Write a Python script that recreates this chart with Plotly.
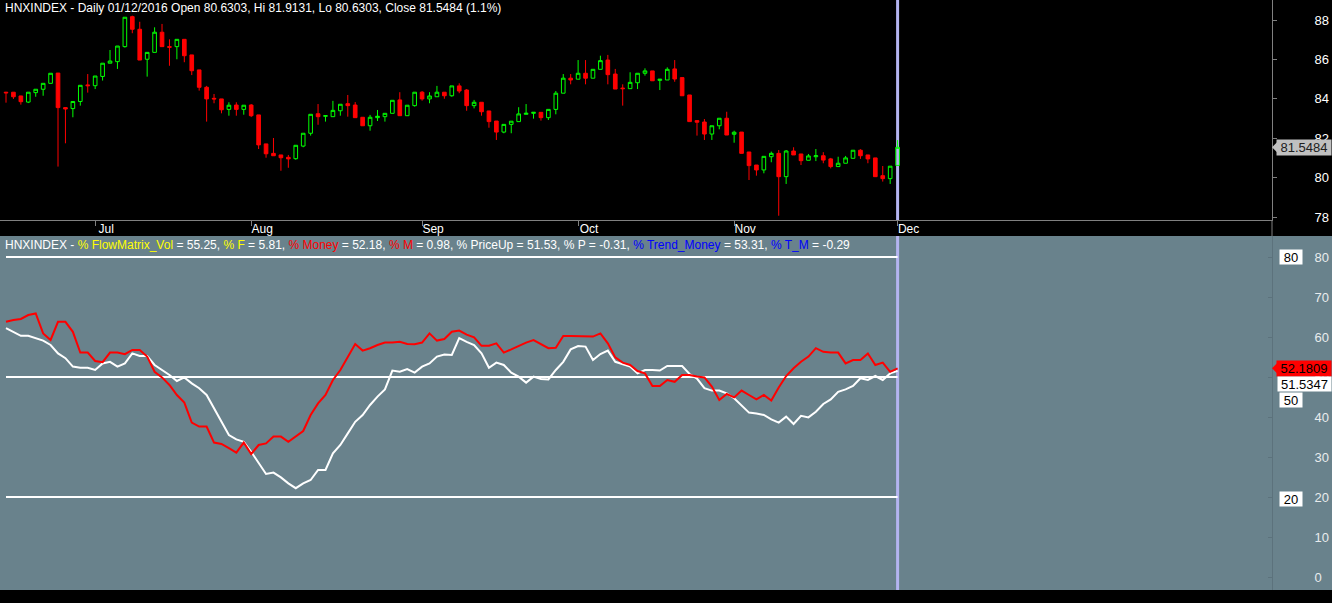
import pandas as pd
import plotly.graph_objects as go

# ---------------- data ----------------
trade_dates = [d for d in pd.bdate_range("2016-06-15", "2016-12-01")
               if d != pd.Timestamp("2016-09-02")]

open_p = [84.34, 84.34, 84.15, 83.84, 84.32, 84.49, 84.79, 85.31, 83.56, 83.51,
          83.87, 84.71, 84.67, 85.14, 85.81, 85.89, 86.65, 88.17, 87.53, 86.01,
          86.36, 87.38, 86.65, 86.65, 87.02, 86.23, 85.47, 84.59, 84.03, 84.00,
          83.47, 83.69, 83.47, 83.69, 83.19, 81.72, 81.24, 81.16, 81.04, 80.97,
          81.61, 82.26, 83.25, 83.12, 83.10, 83.40, 83.76, 83.69, 83.07, 82.64,
          83.05, 83.10, 83.27, 83.95, 83.15, 83.66, 84.34, 84.00, 84.11, 84.34,
          84.16, 84.66, 84.45, 83.66, 83.83, 83.39, 82.88, 82.32, 82.71, 82.85,
          83.22, 83.27, 83.32, 83.05, 83.47, 84.29, 85.05, 85.00, 85.30, 85.05,
          85.50, 85.97, 85.26, 84.55, 84.52, 84.82, 85.30, 85.42, 84.94, 84.96,
          85.52, 85.08, 84.20, 82.90, 82.83, 82.22, 82.64, 83.02, 82.21, 82.32,
          81.31, 80.65, 80.40, 81.07, 81.24, 80.06, 81.36, 81.21, 80.89, 81.07,
          81.12, 80.96, 80.57, 80.74, 80.99, 81.40, 81.16, 81.01, 80.11, 79.96,
          80.6303]
high_p = [84.36, 84.35, 84.16, 84.34, 84.49, 84.79, 85.30, 85.31, 83.57, 83.87,
          84.69, 85.26, 85.16, 85.81, 86.48, 86.68, 88.14, 88.22, 87.91, 86.36,
          87.63, 87.80, 87.02, 87.02, 87.02, 86.23, 85.47, 84.66, 84.25, 84.00,
          83.83, 83.83, 83.68, 83.74, 83.19, 81.72, 82.02, 81.16, 81.16, 81.65,
          82.26, 83.22, 83.74, 83.15, 83.90, 83.73, 84.20, 83.84, 83.07, 83.19,
          83.44, 83.27, 83.93, 84.34, 83.68, 84.34, 84.40, 84.34, 84.66, 84.34,
          84.66, 84.79, 84.50, 83.95, 83.83, 83.39, 82.88, 82.71, 82.87, 83.58,
          83.74, 83.32, 83.32, 83.47, 84.40, 85.26, 85.26, 85.97, 85.97, 85.50,
          86.19, 86.23, 85.52, 84.74, 85.35, 85.30, 85.55, 85.42, 85.00, 85.60,
          85.97, 85.08, 84.20, 82.90, 82.98, 82.64, 83.02, 83.35, 82.39, 82.32,
          81.31, 80.65, 81.09, 81.33, 81.41, 81.41, 81.55, 81.21, 81.21, 81.46,
          81.30, 81.01, 81.07, 81.11, 81.40, 81.45, 81.16, 81.01, 80.60, 80.59,
          81.9131]
low_p = [83.81, 84.00, 83.71, 83.79, 84.11, 84.16, 84.79, 80.57, 81.75, 83.07,
         83.66, 84.32, 84.50, 84.93, 85.81, 85.52, 86.60, 87.33, 85.97, 85.13,
         86.36, 86.65, 85.68, 86.01, 85.86, 85.21, 84.42, 82.85, 83.78, 83.27,
         83.15, 83.15, 83.20, 83.08, 81.46, 81.02, 81.12, 80.36, 80.51, 80.92,
         81.55, 82.14, 82.69, 82.85, 83.10, 83.15, 83.10, 83.05, 82.64, 82.39,
         82.88, 82.85, 83.27, 83.15, 83.15, 83.61, 83.91, 83.78, 84.11, 84.01,
         84.11, 84.29, 83.40, 83.52, 83.15, 82.54, 81.92, 82.26, 82.26, 82.85,
         83.22, 83.00, 82.90, 82.93, 83.22, 84.29, 84.74, 85.00, 84.74, 85.05,
         85.50, 84.74, 84.50, 83.66, 84.52, 84.50, 85.18, 84.92, 84.45, 84.96,
         84.87, 84.16, 82.85, 82.14, 81.92, 81.92, 82.46, 82.17, 81.78, 81.24,
         79.89, 80.11, 80.23, 80.79, 78.08, 79.69, 81.16, 80.65, 80.89, 80.85,
         80.74, 80.48, 80.57, 80.74, 80.99, 80.96, 80.74, 80.06, 79.81, 79.69,
         80.6303]
close_p = [84.31, 84.11, 83.86, 84.34, 84.49, 84.79, 85.30, 83.56, 83.49, 83.87,
           84.69, 84.67, 85.16, 85.81, 85.92, 86.68, 88.14, 87.53, 85.97, 86.36,
           87.38, 86.65, 86.62, 87.02, 86.19, 85.43, 84.59, 84.00, 84.00, 83.45,
           83.68, 83.47, 83.68, 83.15, 81.67, 81.22, 81.12, 81.02, 80.96, 81.65,
           82.26, 83.22, 83.10, 83.15, 83.42, 83.73, 83.66, 83.05, 82.64, 83.07,
           83.12, 83.27, 83.93, 83.15, 83.68, 84.34, 84.00, 84.15, 84.34, 84.16,
           84.66, 84.40, 83.66, 83.83, 83.35, 82.85, 82.32, 82.71, 82.87, 83.24,
           83.27, 83.32, 83.05, 83.47, 84.29, 85.05, 84.96, 85.30, 85.05, 85.50,
           85.94, 85.23, 84.50, 84.52, 84.84, 85.30, 85.42, 84.92, 85.00, 85.50,
           85.01, 84.16, 82.85, 82.82, 82.22, 82.64, 83.02, 82.17, 82.31, 81.24,
           80.62, 80.40, 81.09, 81.24, 80.06, 81.36, 81.16, 80.87, 81.11, 81.12,
           80.90, 80.57, 80.74, 81.01, 81.40, 81.12, 80.96, 80.06, 79.96, 80.59,
           81.5484]
pct_change = 1.1

money = [63.8, 64.25, 64.5, 65.5, 65.9, 60.9, 59.25, 63.8, 63.8, 61.3,
         56.1, 56.1, 54.0, 53.7, 56.1, 56.1, 55.7, 56.75, 56.75, 55.1,
         51.3, 49.9, 48.0, 45.5, 43.6, 38.6, 37.6, 37.6, 33.6, 33.25,
         32.2, 31.1, 33.6, 30.75, 33.0, 33.4, 35.1, 35.1, 33.8, 35.1,
         36.5, 40.5, 43.4, 45.5, 49.25, 51.75, 55.1, 58.25, 56.6, 57.2,
         58.0, 58.6, 58.6, 58.8, 58.25, 58.2, 58.6, 60.9, 59.1, 59.5,
         61.3, 61.6, 60.6, 59.9, 57.8, 57.8, 58.4, 56.1, 56.9, 57.8,
         58.6, 59.25, 58.25, 57.2, 57.3, 60.25, 60.25, 60.25, 60.1, 60.1,
         60.9, 58.4, 54.9, 53.6, 53.0, 51.5, 50.9, 47.75, 47.75, 49.25,
         48.8, 50.5, 50.5, 50.1, 49.9, 47.6, 44.25, 45.75, 44.9, 46.6,
         45.5, 44.4, 45.5, 44.1, 47.4, 50.25, 52.2, 53.8, 55.1, 57.2,
         56.3, 56.1, 56.1, 53.4, 54.25, 54.25, 55.9, 53.0, 53.6, 51.3,
         52.1809]
price_up = [62.2, 61.3, 60.3, 60.3, 59.7, 59.1, 58.0, 55.9, 54.7, 52.6,
            52.3, 52.3, 51.75, 53.4, 53.8, 52.6, 53.4, 55.9, 55.25, 55.25,
            53.0, 51.75, 50.5, 49.0, 49.9, 48.4, 47.2, 45.5, 42.2, 38.8,
            35.5, 34.4, 33.8, 31.3, 28.4, 25.75, 26.1, 24.9, 23.4, 22.2,
            23.4, 24.25, 26.75, 26.75, 30.9, 33.0, 35.9, 38.8, 40.5, 43.0,
            45.1, 46.9, 51.6, 51.3, 52.0, 51.1, 52.6, 53.4, 55.1, 55.6,
            55.5, 59.7, 58.8, 58.0, 55.9, 52.3, 53.6, 53.0, 51.1, 50.1,
            48.6, 50.1, 49.5, 49.4, 51.75, 53.8, 56.9, 57.75, 57.6, 54.25,
            55.75, 56.6, 53.8, 53.25, 52.6, 50.9, 51.75, 51.75, 51.6, 52.75,
            52.75, 52.75, 50.75, 49.6, 47.2, 46.6, 46.6, 45.9, 44.7, 43.0,
            41.1, 40.9, 40.5, 39.4, 38.6, 40.1, 38.25, 40.3, 39.9, 41.3,
            43.25, 44.4, 46.3, 46.9, 47.75, 49.7, 49.25, 50.25, 49.25, 50.9,
            51.5347]
levels = [80, 50, 20]
price_ticks = [78, 80, 82, 84, 86, 88]
osc_ticks = [0, 10, 20, 30, 40, 50, 60, 70, 80]

ind_names = ["FlowMatrix_Vol", "F", "Money", "M", "PriceUp", "P", "Trend_Money", "T_M"]
ind_values = [55.25, 5.81, 52.18, 0.98, 51.53, -0.31, 53.31, -0.29]
ind_colors = ["#ffff00", "#ffff00", "#ff0000", "#ff0000", "#ffffff", "#ffffff", "#0000ff", "#0000ff"]

# ---------------- geometry / style ----------------
W, H = 1332, 603
FONT = "Liberation Sans, Arial, sans-serif"
PLOT_R = 1272
xr = PLOT_R / W
bar_px, first_px = 7.43, 6.0
x_range = [(0 - first_px) / bar_px, (PLOT_R - first_px) / bar_px]
top_dom = [1 - 220 / H, 1.0]
bot_dom = [1 - 590 / H, 1 - 236 / H]
top_range = [88 - 200 / 19.73, 88 + 20 / 19.73]
bot_range = [(577 - 590) / 4, (577 - 236) / 4]
SLATE = "#69828c"
LAV = "#b4b4f0"

n = len(close_p)
xi = list(range(n))
month_idx = [i for i in range(1, n) if trade_dates[i].month != trade_dates[i - 1].month]
month_txt = [trade_dates[i].strftime("%b") for i in month_idx]

fig = go.Figure()
fig.add_trace(go.Candlestick(
    x=xi, open=open_p, high=high_p, low=low_p, close=close_p,
    increasing=dict(line=dict(color="#00ff00", width=1), fillcolor="rgba(0,0,0,0)"),
    decreasing=dict(line=dict(color="#ff0000", width=1), fillcolor="#ff0000"),
    whiskerwidth=0, xaxis="x", yaxis="y", showlegend=False, hoverinfo="skip"))

for lv in levels:
    fig.add_trace(go.Scatter(x=[xi[0], xi[-1]], y=[lv, lv], mode="lines",
                             line=dict(color="#ffffff", width=2),
                             xaxis="x2", yaxis="y2", showlegend=False, hoverinfo="skip"))
fig.add_trace(go.Scatter(x=xi, y=price_up, mode="lines", line=dict(color="#ffffff", width=2),
                         xaxis="x2", yaxis="y2", showlegend=False, hoverinfo="skip"))
fig.add_trace(go.Scatter(x=xi, y=money, mode="lines", line=dict(color="#ff0000", width=2),
                         xaxis="x2", yaxis="y2", showlegend=False, hoverinfo="skip"))

shapes = [
    dict(type="rect", xref="paper", yref="paper", x0=0, x1=1, y0=bot_dom[0], y1=bot_dom[1],
         fillcolor=SLATE, line=dict(width=0), layer="below"),
    dict(type="line", xref="x", yref="paper", x0=xi[-1], x1=xi[-1], y0=top_dom[0], y1=top_dom[1],
         line=dict(color=LAV, width=3), layer="below"),
    dict(type="line", xref="x2", yref="paper", x0=xi[-1], x1=xi[-1], y0=bot_dom[0], y1=bot_dom[1],
         line=dict(color=LAV, width=3), layer="below"),
    dict(type="line", xref="paper", yref="paper", x0=xr, x1=xr, y0=bot_dom[1], y1=top_dom[0],
         line=dict(color="#808080", width=1)),
    dict(type="path", xref="paper", yref="y", xsizemode="pixel", ysizemode="pixel",
         xanchor=xr, yanchor=close_p[-1], path="M0,0 L7,7 L7,-7 Z",
         fillcolor="#c0c0c0", line=dict(width=0)),
    dict(type="path", xref="paper", yref="y2", xsizemode="pixel", ysizemode="pixel",
         xanchor=xr, yanchor=money[-1], path="M0,0 L7,7 L7,-7 Z",
         fillcolor="#ff0000", line=dict(width=0)),
]

title_txt = (f"HNXINDEX - Daily {trade_dates[-1]:%d/%m/%Y} Open {open_p[-1]:.4f}, "
             f"Hi {high_p[-1]:.4f}, Lo {low_p[-1]:.4f}, Close {close_p[-1]:.4f} ({pct_change:.1f}%)")
legend_txt = "HNXINDEX - " + ", ".join(
    f'<span style="color:{c}">% {nm}</span> = {v:.2f}' for nm, v, c in zip(ind_names, ind_values, ind_colors))

ann = [
    dict(text=title_txt, xref="paper", yref="paper", x=0, y=1 - 8 / H, xanchor="left", yanchor="middle",
         xshift=3, showarrow=False, font=dict(family=FONT, size=12, color="#ffffff")),
    dict(text=legend_txt, xref="paper", yref="paper", x=0, y=1 - 245 / H, xanchor="left", yanchor="middle",
         xshift=3, showarrow=False, font=dict(family=FONT, size=12, color="#ffffff")),
    dict(text=f"{close_p[-1]:.4f}", xref="paper", yref="y", x=1, y=close_p[-1], xanchor="right",
         yanchor="middle", showarrow=False, bgcolor="#c0c0c0", borderpad=1, width=52, height=13,
         font=dict(family=FONT, size=13, color="#202020")),
    dict(text=f"{money[-1]:.4f}", xref="paper", yref="y2", x=1, y=money[-1], xanchor="right",
         yanchor="middle", showarrow=False, bgcolor="#ff0000", borderpad=1, width=52, height=13,
         font=dict(family=FONT, size=13, color="#000000")),
    dict(text=f"{price_up[-1]:.4f}", xref="paper", yref="y2", x=1, y=price_up[-1], xanchor="right",
         yanchor="middle", yshift=-13, showarrow=False, bgcolor="#ffffff", borderpad=1, width=51, height=12,
         font=dict(family=FONT, size=13, color="#000000")),
]
level_shift = {80: 0, 50: -23, 20: -2}
for lv in levels:
    ann.append(dict(text=str(lv), xref="paper", yref="y2", x=1279 / W, y=lv, xanchor="left",
                    yanchor="middle", yshift=level_shift[lv], showarrow=False, bgcolor="#ffffff",
                    borderpad=1, width=20, height=12, font=dict(family=FONT, size=13, color="#000000")))

fig.update_layout(
    width=W, height=H, margin=dict(l=0, r=0, t=0, b=0, pad=0, autoexpand=False), autosize=False,
    paper_bgcolor="#000000", plot_bgcolor="rgba(0,0,0,0)", showlegend=False,
    font=dict(family=FONT, size=12, color="#ffffff"),
    xaxis=dict(domain=[0, xr], range=x_range, anchor="y", tickmode="array", tickvals=month_idx,
               ticktext=month_txt, ticks="outside", ticklen=5, tickcolor="#808080", automargin=False,
               showgrid=False, zeroline=False, showline=True, linecolor="#808080", mirror=True,
               rangeslider=dict(visible=False), ticklabelshift=11, ticklabelstandoff=-7,
               tickfont=dict(family=FONT, size=12, color="#ffffff")),
    yaxis=dict(domain=top_dom, range=top_range, anchor="x", side="right", tickmode="array",
               tickvals=price_ticks, ticks="outside", ticklen=4, tickcolor="#808080", automargin=False,
               showgrid=False, zeroline=False, showline=True, linecolor="#808080", mirror=True,
               ticklabelstandoff=35, tickfont=dict(family=FONT, size=13, color="#ffffff")),
    xaxis2=dict(domain=[0, xr], range=x_range, anchor="y2", visible=False, automargin=False),
    yaxis2=dict(domain=bot_dom, range=bot_range, anchor="x2", side="right", tickmode="array",
                tickvals=osc_ticks, ticks="inside", ticklen=4, tickcolor="#5c727c", automargin=False,
                showgrid=False, zeroline=False, showline=True, linecolor="#5c727c",
                ticklabelstandoff=39, tickfont=dict(family=FONT, size=13, color="#e8ecee")),
    shapes=shapes, annotations=ann,
)

fig.write_html("out.html", config={"displayModeBar": False, "responsive": False},
               post_script="document.body.style.margin='0';document.body.style.overflow='hidden';"
                           "document.body.style.background='#000';")
